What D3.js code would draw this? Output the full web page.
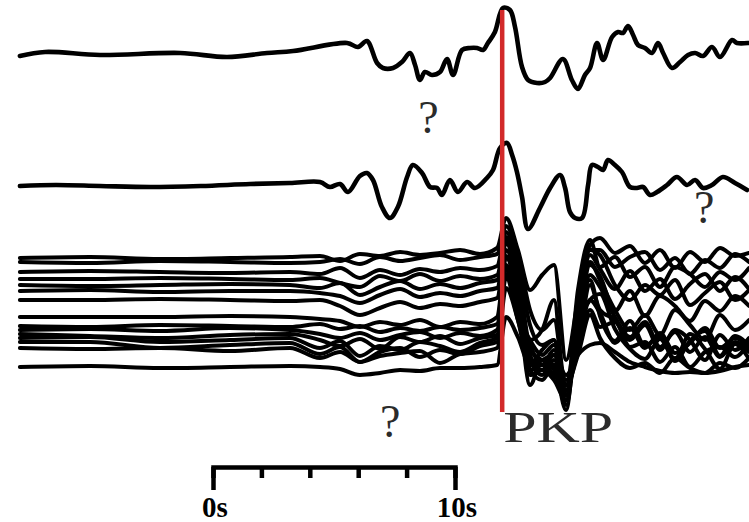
<!DOCTYPE html>
<html lang="en">
<head>
<meta charset="UTF-8">
<title>PKP traces</title>
<script src="https://cdn.jsdelivr.net/npm/d3@7"></script>
<style>
  html, body { margin: 0; padding: 0; background: #fff; }
  svg { display: block; }
</style>
</head>
<body>
<svg id="chart" width="749" height="522"></svg>
<script>
// time in seconds, amplitude in px-like units (positive = up)
var topTrace = [[-7.98,0],[-6.94,4],[-4.67,1],[-1.36,3],[0.58,-1],[2.23,3],[3.31,5],[5.54,13],[5.99,9],[6.36,15],[6.78,-7],[7.02,-12],[7.44,-12],[7.81,-6],[8.14,3],[8.35,-9],[8.55,-24],[8.76,-16],[9.05,-19],[9.38,-16],[9.67,-3],[9.92,-19],[10.29,6],[10.62,8],[10.91,8],[11.16,6],[11.36,13],[11.65,24],[11.98,48],[12.27,46],[12.48,29],[12.77,-11],[13.02,-24],[13.39,-27],[13.72,-26],[13.93,-22],[14.46,-3],[14.83,-24],[15.08,-33],[15.37,-19],[15.58,-12],[15.87,13],[16.12,-4],[16.49,19],[16.74,24],[16.94,23],[17.15,30],[17.36,21],[17.56,11],[17.85,8],[18.14,3],[18.39,13],[18.60,3],[18.97,-12],[19.30,-6],[19.63,1],[19.92,3],[20.25,0],[20.62,9],[20.95,-1],[21.45,16],[21.65,13],[22.11,13]];

var midTrace = [[-7.98,0],[-6.5,1],[-4.67,0],[-2.6,-1],[-0.5,0],[1.53,2],[3.18,3],[4.42,4],[4.83,-1],[5.25,2],[5.58,-6],[6.07,10],[6.36,13],[6.61,6],[6.98,-21],[7.31,-32],[7.64,-21],[8.02,9],[8.26,21],[8.64,13],[8.97,-1],[9.26,-2],[9.46,-9],[9.79,6],[10.12,-6],[10.50,4],[10.83,-2],[11.32,8],[11.57,16],[11.86,38],[12.15,43],[12.36,31],[12.56,14],[12.77,-11],[13.02,-43],[13.51,-22],[13.93,-2],[14.34,11],[14.55,-2],[14.75,-26],[14.96,-32],[15.25,-32],[15.50,1],[15.66,21],[15.91,19],[16.12,16],[16.32,26],[16.61,21],[16.90,14],[17.23,-1],[17.52,-2],[17.77,-1],[18.06,-9],[18.35,-6],[18.76,1],[19.17,9],[19.59,1],[19.92,6],[20.25,-2],[20.62,1],[21.07,9],[21.57,3],[22.07,-4]];

// offsets of each trace (downwards, same units)
var topOffset = 0;
var midOffset = 130;
var bundleOffsets = [202, 206, 216, 223, 229, 235, 244, 261, 270, 274, 278, 282, 286, 292, 311];

// shared sample times for the stacked bundle
var bundleTimes = [-7.98,-5.08,-2.19,0.70,3.18,4.42,5.25,6.07,6.90,7.73,8.55,9.38,10.21,11.03,11.74,12.11,12.60,13.10,13.60,14.09,14.59,15.08,15.58,15.99,16.61,17.23,17.85,18.47,19.09,19.71,20.33,20.95,21.57,22.15];

var bundle = [
  [0,1,-1,0,1, 2,-3,4,2,6,3,5,8,4,10, 40, 8,-32,-17,-7,-102,-42,13, 20,5,12,-5,8,-10,6,-4,10,2,5],
  [0,-1,1,0,-1, 0,3,-2,5,1,4,7,2,5,8, 36, 7,-48,-68,-58,-123,-48,12, 12,-5,5,10,-8,4,-12,2,-6,8,0],
  [0,1,0,-1,0, -2,4,-6,2,-3,3,0,4,2,6, 40, 7,-53,-73,-68,-123,-18,32, 5,15,-5,5,-15,5,-2,-15,0,-8,4],
  [0,0,1,0,-1, 1,-4,-8,3,-2,5,-2,3,0,4, 42, 4,-61,-51,-21,-126,-41,24, 10,-10,8,-12,0,-20,-5,5,-12,2,-10],
  [0,-1,0,1,0, -3,2,-10,-2,4,-4,1,-3,2,5, 45, 10,-65,-75,-80,-125,-15,35, 30,0,-15,0,-10,5,-20,-8,3,-15,-5],
  [0,1,-1,0,0, -2,-5,-12,-4,2,-6,-2,-5,0,3, 48, 6,-74,-59,-49,-104,-39,26, 15,-20,0,-25,-5,-15,-30,-10,-20,-5,-15],
  [0,0,1,0,-1, 0,-6,-15,-8,-2,-8,-4,-6,-2,2, 50, 10,-75,-70,-80,-100,-10,38, 20,-10,-30,-15,-35,-10,-25,-40,-15,-30,-20],
  [0,0,0,1,0, -2,-4,-10,-5,-8,-3,-10,-5,-7,0, 60, 22,-38,-53,-38,-73,-23,42, 30,0,-20,-5,-30,-15,-35,-20,-40,-25,-35],
  [0,-1,1,0,-1, 2,-3,0,-6,-2,-5,-1,-4,-2,2, 70, 26,-59,-34,-44,-74,6,46, 10,-15,5,-20,-10,-35,-15,-5,-30,-10,-20],
  [0,1,-1,2,0, -4,-8,-3,-10,-5,-2,-8,-3,-6,0, 65, 20,-15,-35,-20,-55,-15,45, 20,10,-10,5,-20,0,-10,-30,-5,-20,-8],
  [0,-2,-4,-1,0, -6,-12,-5,-15,-3,-8,-2,-10,-4,-1, 60, 29,-36,-46,-31,-61,4,34, 40,5,-15,-25,-5,-25,0,-15,-35,-10,-25],
  [0,1,-4,-2,0, -10,-3,-18,-8,-12,-4,-8,-14,-5,0, 70, 23,-2,-17,-7,-42,-7,38, 25,-5,10,-10,5,-15,-5,10,-10,0,-10],
  [0,0,-6,-3,-1, -12,-5,-20,-10,-6,-15,-8,-12,-4,0, 65, 22,-18,-33,-18,-48,-8,32, 15,20,-5,0,-20,-5,-25,-10,-5,-15,0],
  [0,-1,0,-3,0, -10,-4,-14,-8,-5,-3,-15,-6,-4,0, 60, 28,-22,-17,-27,-37,-7,33, 10,-10,-20,-15,-25,-10,-20,-25,-15,-20,-10],
  [0,1,-1,0,1, 0,-2,-8,-6,-3,-4,-1,-1,0,2, 50, 30,2,7,12,-8,12,22, 24,15,5,0,-4,-6,-5,-6,-4,0,2]
];

var pkpTime = 11.95;
var scaleTicks = [0, 2, 4, 6, 8, 10];
var scaleLabels = [{t: 0, text: "0s"}, {t: 10, text: "10s"}];
var questions = [{t: 8.9, level: 77}, {t: 20.3, level: 167}, {t: 7.32, level: 381}];

var svg = d3.select("#chart");

var x = d3.scaleLinear().domain([-8, 22]).range([19.4, 745.4]);
// level (downwards) -> pixel y
var y = d3.scaleLinear().domain([0, 466]).range([56, 522]);

var line = d3.line()
  .x(function (d) { return x(d[0]); })
  .y(function (d) { return y(d[2] - d[1]); })
  .curve(d3.curveCatmullRom.alpha(0.5));

var bundleLine = d3.line()
  .x(function (d) { return x(d[0]); })
  .y(function (d) { return y(d[2] - d[1]); })
  .curve(d3.curveMonotoneX);

function withOffset(trace, off) {
  return trace.map(function (d) { return [d[0], d[1], off]; });
}

// bundle
var bundleData = bundle.map(function (vals, i) {
  return bundleTimes.map(function (t, j) { return [t, vals[j], bundleOffsets[i]]; });
});

svg.append("g").selectAll("path")
  .data(bundleData)
  .enter().append("path")
  .attr("d", bundleLine)
  .attr("fill", "none")
  .attr("stroke", "#000")
  .attr("stroke-width", 4)
  .attr("stroke-linejoin", "round")
  .attr("stroke-linecap", "round");

svg.append("path")
  .datum(withOffset(topTrace, topOffset))
  .attr("d", line)
  .attr("fill", "none")
  .attr("stroke", "#000")
  .attr("stroke-width", 4.6)
  .attr("stroke-linejoin", "round")
  .attr("stroke-linecap", "round");

svg.append("path")
  .datum(withOffset(midTrace, midOffset))
  .attr("d", line)
  .attr("fill", "none")
  .attr("stroke", "#000")
  .attr("stroke-width", 4.6)
  .attr("stroke-linejoin", "round")
  .attr("stroke-linecap", "round");

// PKP marker
svg.append("line")
  .attr("x1", x(pkpTime)).attr("x2", x(pkpTime))
  .attr("y1", y(-46)).attr("y2", y(356))
  .attr("stroke", "#d22a2a")
  .attr("stroke-width", 4.5);

svg.append("text")
  .attr("x", x(pkpTime) + 1)
  .attr("y", y(386))
  .attr("font-family", "Liberation Serif, Times New Roman, serif")
  .attr("font-size", 45)
  .attr("fill", "#2b2b2b")
  .attr("textLength", 110)
  .attr("lengthAdjust", "spacingAndGlyphs")
  .text("PKP");

svg.append("g").selectAll("text")
  .data(questions)
  .enter().append("text")
  .attr("x", function (d) { return x(d.t); })
  .attr("y", function (d) { return y(d.level); })
  .attr("text-anchor", "middle")
  .attr("font-family", "Liberation Serif, Times New Roman, serif")
  .attr("font-size", 46)
  .attr("fill", "#2b2b2b")
  .text("?");

// scale bar
var xs = x.copy().domain([0, 10]).range([x(0), x(10)]);
var bar = svg.append("g")
  .attr("transform", "translate(0," + y(411) + ")")
  .call(d3.axisBottom(xs).tickValues(scaleTicks).tickSizeInner(11).tickSizeOuter(23).tickFormat(""));
bar.select(".domain").attr("stroke-width", 4.5).attr("stroke", "#000");
bar.selectAll(".tick line").attr("stroke-width", 4.5).attr("stroke", "#000");

svg.append("g").selectAll("text")
  .data(scaleLabels)
  .enter().append("text")
  .attr("x", function (d) { return xs(d.t) + 2; })
  .attr("y", y(461))
  .attr("text-anchor", "middle")
  .attr("font-family", "Liberation Serif, Times New Roman, serif")
  .attr("font-weight", "bold")
  .attr("font-size", 29)
  .attr("fill", "#000")
  .text(function (d) { return d.text; });
</script>
</body>
</html>
